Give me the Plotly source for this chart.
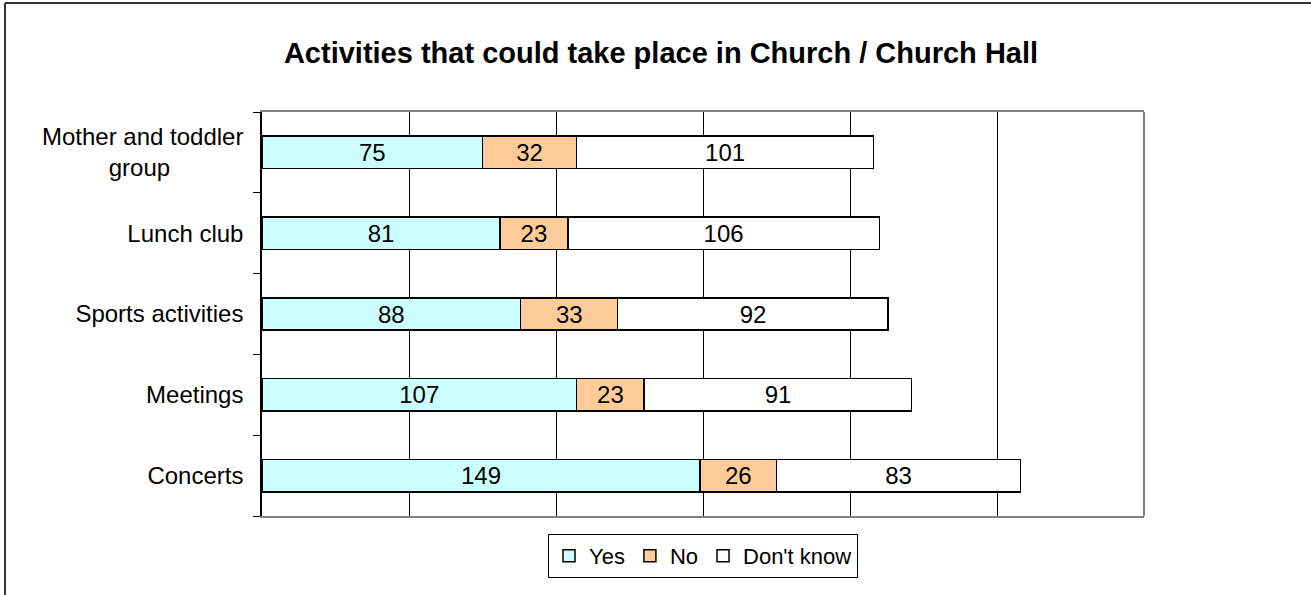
import plotly.graph_objects as go

# data
activities = ['Mother and toddler group', 'Lunch club', 'Sports activities', 'Meetings', 'Concerts']
tick_text = ['Mother and toddler<br>group' + '\u00a0' * 11, 'Lunch club', 'Sports activities', 'Meetings', 'Concerts']
yes = [75, 81, 88, 107, 149]
no = [32, 23, 33, 23, 26]
dont_know = [101, 106, 92, 91, 83]

series = [('Yes', yes, '#CCFFFF'), ('No', no, '#FFCC99'), ("Don't know", dont_know, '#FFFFFF')]

W, H = 1311, 595
L, R, T, B = 262, 1144, 112, 516

fig = go.Figure()
for name, vals, col in series:
    fig.add_trace(go.Bar(
        y=activities,
        x=vals,
        name=name,
        orientation='h',
        marker=dict(color=col, line=dict(color='black', width=1.5)),
        text=[str(v) for v in vals],
        textposition='inside',
        insidetextanchor='middle',
        textangle=0,
        constraintext='none',
        textfont=dict(family='Liberation Sans, Arial', size=24, color='black'),
    ))

def px_x(p):
    return (p - L) / (R - L)

def px_y(p):
    return (B - p) / (B - T)

frame = dict(color='#333333', width=2)
fig.add_shape(type='line', xref='paper', yref='paper',
              x0=px_x(5), x1=px_x(5), y0=px_y(600), y1=px_y(3), line=frame)
fig.add_shape(type='line', xref='paper', yref='paper',
              x0=px_x(5), x1=px_x(1320), y0=px_y(3), y1=px_y(3), line=frame)
# right edge of plot area
fig.add_shape(type='line', xref='paper', yref='paper',
              x0=1, x1=1, y0=0, y1=1, line=dict(color='#808080', width=2))

fig.update_layout(
    barmode='stack',
    bargap=0.6,
    width=W, height=H,
    margin=dict(l=L, r=W - R, t=T, b=H - B),
    paper_bgcolor='white',
    plot_bgcolor='white',
    font=dict(family='Liberation Sans, Arial', size=24, color='black'),
    title=dict(text='<b>Activities that could take place in Church / Church Hall</b>',
               x=661 / W, xanchor='center', xref='container',
               y=1 - 53 / H, yanchor='middle', yref='container',
               font=dict(size=29, color='black')),
    xaxis=dict(range=[0, 300], dtick=50, showgrid=True, gridcolor='black', gridwidth=1,
               showticklabels=False, zeroline=False, ticks='',
               showline=True, linecolor='#808080', linewidth=2, mirror=True),
    yaxis=dict(categoryorder='array', categoryarray=activities, autorange='reversed',
               tickmode='array', tickvals=activities, ticktext=tick_text,
               ticks='outside', tickson='boundaries', ticklen=7, tickcolor='black',
               ticklabelstandoff=12,
               showline=True, linecolor='black', linewidth=1.5, showgrid=False,
               zeroline=False),
    legend=dict(orientation='h', x=0.5, xanchor='center', y=px_y(534), yanchor='top',
                bordercolor='black', borderwidth=1, bgcolor='white',
                font=dict(size=22), itemwidth=30, traceorder='normal'),
)

fig.write_html('out.html', config={'displayModeBar': False},
               post_script="document.body.style.margin='0';")
